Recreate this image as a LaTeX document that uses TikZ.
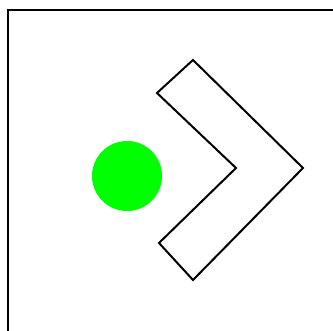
\documentclass[tikz,border=0pt]{standalone}
\usetikzlibrary{positioning}

\begin{document}
\begin{tikzpicture}[
    x=1pt, y=-1pt,
    outline/.style={draw=black, line width=2pt, line join=miter},
    dot/.style={circle, fill=green, draw=none, minimum size=70pt, inner sep=0pt}
  ]
    \useasboundingbox (0,0) rectangle (333,331);
    \clip (0,0) rectangle (333,331);

    % frame, running off the right and bottom edges
    \draw[outline] (8,345) -- (8,10) -- (345,10);

    \node[dot] (ball) at (127,176) {};

    % chevron pointing right
    \draw[outline] (193,60) -- (303,168) -- (193,280) -- (159,243)
      -- (236,168) -- (157,93) -- cycle;
  \end{tikzpicture}
\end{document}
